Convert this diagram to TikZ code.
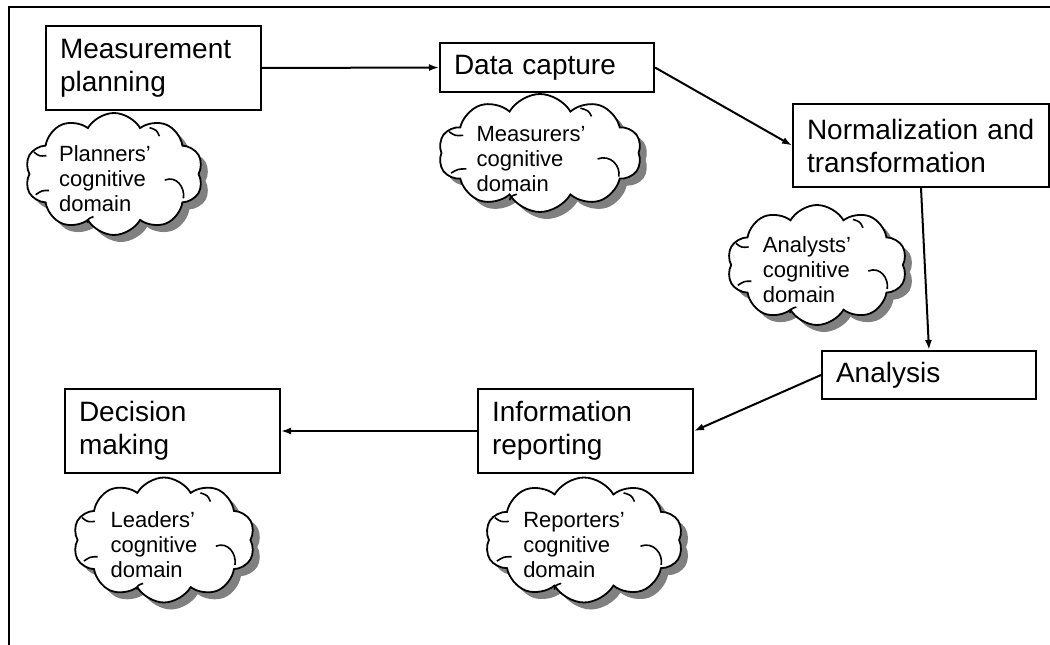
\documentclass[tikz,border=0pt]{standalone}
\usepackage{fontspec}
\setmainfont{Liberation Sans}
\usetikzlibrary{shapes.symbols,shadows,arrows.meta,calc}
\newcommand\cloudinner[3]{%
  \begin{scope}[shift={(#1.center)}, x=#2pt, y=-#3pt]
    \draw[cloudarc] (0.57,0.10) .. controls (0.70,0.02) and (0.80,0.22) .. (0.78,0.40);
    \draw[cloudarc] (-0.90,-0.36) .. controls (-0.84,-0.29) .. (-0.76,-0.30);
    \draw[cloudarc] (-0.88,0.34) .. controls (-0.81,0.27) .. (-0.73,0.27);
    \draw[cloudarc] (-0.30,0.80) .. controls (-0.29,0.73) .. (-0.23,0.70);
    \draw[cloudarc] (0.40,-0.76) .. controls (0.48,-0.72) .. (0.51,-0.62);
  \end{scope}}
\begin{document}
\begin{tikzpicture}[x=1pt,y=-1pt,
  stagebox/.style={draw, line width=2pt, rectangle, anchor=north west,
    inner xsep=14pt, inner ysep=0pt, align=left,
    font=\fontsize{28}{33}\selectfont},
  cloudshape/.style={cloud, draw, line width=1.8pt, fill=white,
    cloud puffs=10, cloud puff arc=120, cloud ignores aspect, inner sep=0pt,
    drop shadow={shadow xshift=7pt, shadow yshift=-7pt, fill=black!50, opacity=1}},
  cloudarc/.style={line width=1.6pt},
  cloudtext/.style={align=left, inner sep=0pt, font=\fontsize{22}{25}\selectfont},
  flow/.style={line width=2pt, -{Latex[length=10pt,width=7pt]}},
  frameline/.style={line width=2.2pt}
]
\useasboundingbox (0,0) rectangle (1050,645);
\draw[frameline] (1050,7) -- (9,7) -- (9,645);

% stage boxes
\node[stagebox, minimum width=215pt, minimum height=84pt, text width=187pt] (mp) at (45,25) {Measurement\\planning};
\node[stagebox, minimum width=214pt, minimum height=49pt, text width=186pt] (dc) at (439,42) {Data capture};
\node[stagebox, minimum width=256pt, minimum height=83pt, text width=228pt] (nt) at (792,103) {Normalization and\\transformation};
\node[stagebox, minimum width=214pt, minimum height=48pt, text width=186pt] (an) at (821,350) {Analysis};
\node[stagebox, minimum width=215pt, minimum height=84pt, text width=187pt] (ir) at (477,388) {Information\\reporting};
\node[stagebox, minimum width=215pt, minimum height=84pt, text width=187pt] (dm) at (64,388) {Decision\\making};

% clouds
\node[cloudshape, minimum width=178pt, minimum height=122pt] (c1) at (114,174) {};
\cloudinner{c1}{89}{61}
\node[cloudtext] (t1) at ($(c1.center)+(-9,5)$) {Planners'\\cognitive\\domain};
\node[cloudshape, minimum width=203pt, minimum height=118pt] (c2) at (540,153) {};
\cloudinner{c2}{101}{59}
\node[cloudtext] (t2) at ($(c2.center)+(-9,6)$) {Measurers'\\cognitive\\domain};
\node[cloudshape, minimum width=180pt, minimum height=120pt] (c3) at (817,265) {};
\cloudinner{c3}{90}{60}
\node[cloudtext] (t3) at ($(c3.center)+(-10,5)$) {Analysts'\\cognitive\\domain};
\node[cloudshape, minimum width=182pt, minimum height=125pt] (c4) at (164,540) {};
\cloudinner{c4}{91}{62}
\node[cloudtext] (t4) at ($(c4.center)+(-10,5)$) {Leaders'\\cognitive\\domain};
\node[cloudshape, minimum width=198pt, minimum height=125pt] (c5) at (584,540) {};
\cloudinner{c5}{99}{62}
\node[cloudtext] (t5) at ($(c5.center)+(-10,5)$) {Reporters'\\cognitive\\domain};

% connectors
\draw[flow] (mp.east) -- (dc.west);
\draw[flow] (dc.east) -- (nt.west);
\draw[flow] (nt.south) -- (an.north);
\draw[flow] (an.west) -- (ir.east);
\draw[flow] (ir.west) -- (dm.east);
\end{tikzpicture}
\end{document}
